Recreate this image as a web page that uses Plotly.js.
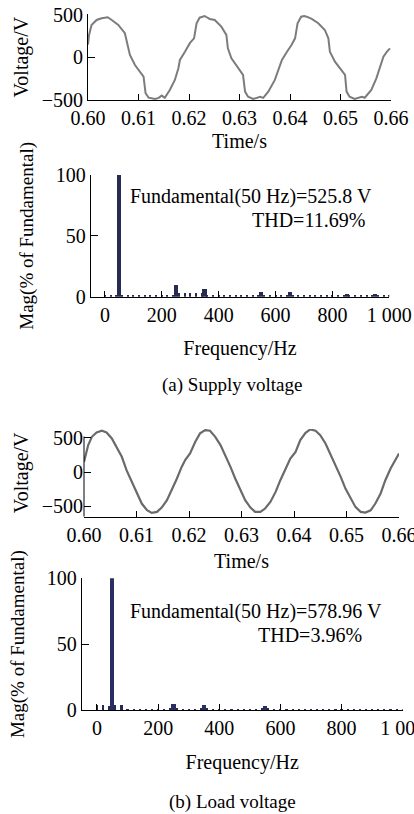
<!DOCTYPE html>
<html>
<head>
<meta charset="utf-8">
<script src="https://cdn.plot.ly/plotly-3.0.1.min.js"></script>
<style>html,body{margin:0;padding:0;background:#fff;}#chart{width:414px;height:814px;}</style>
</head>
<body>
<div id="chart"></div>
<script>
// ---- (a) Supply voltage waveform ----
const supplyTime = [0.6000,0.6002,0.6007,0.6017,0.6027,0.6033,0.6039,0.6047,0.6060,0.6073,0.6077,0.6083,0.6093,0.6106,0.6110,0.6114,0.6120,0.6133,0.6140,0.6146,0.6152,0.6162,0.6172,0.6179,0.6182,0.6192,0.6202,0.6210,0.6215,0.6221,0.6226,0.6231,0.6236,0.6241,0.6251,0.6264,0.6274,0.6277,0.6284,0.6297,0.6307,0.6311,0.6317,0.6327,0.6334,0.6341,0.6347,0.6357,0.6370,0.6379,0.6384,0.6394,0.6403,0.6410,0.6415,0.6422,0.6428,0.6433,0.6443,0.6456,0.6469,0.6476,0.6479,0.6489,0.6502,0.6509,0.6512,0.6518,0.6528,0.6535,0.6542,0.6548,0.6561,0.6571,0.6578,0.6585,0.6592,0.6598];
const supplyVoltage = [150,260,382,441,461,468,473,441,382,284,165,27,-91,-189,-230,-425,-477,-493,-480,-453,-480,-386,-268,-130,-32,66,170,224,402,468,480,488,470,453,441,362,264,106,-12,-130,-209,-406,-466,-493,-480,-466,-480,-406,-268,-111,-32,66,145,224,402,480,488,480,453,402,323,224,66,-52,-150,-209,-406,-466,-493,-480,-466,-478,-386,-249,-111,7,66,106];

// ---- (b) Load voltage waveform ----
const loadTime = [0.6000,0.6004,0.6008,0.6015,0.6024,0.6034,0.6043,0.6053,0.6062,0.6072,0.6081,0.6091,0.6101,0.6110,0.6120,0.6129,0.6139,0.6148,0.6158,0.6167,0.6177,0.6186,0.6193,0.6202,0.6212,0.6221,0.6231,0.6240,0.6250,0.6260,0.6269,0.6279,0.6288,0.6298,0.6307,0.6317,0.6326,0.6336,0.6345,0.6355,0.6365,0.6374,0.6384,0.6393,0.6403,0.6412,0.6422,0.6431,0.6441,0.6450,0.6460,0.6469,0.6479,0.6489,0.6498,0.6508,0.6517,0.6527,0.6536,0.6546,0.6555,0.6565,0.6574,0.6584,0.6594,0.6600];
const loadVoltage = [150,280,395,516,580,604,580,492,370,224,29,-142,-311,-458,-556,-595,-580,-516,-409,-263,-92,77,180,273,443,566,614,604,516,395,249,77,-92,-263,-409,-516,-580,-580,-531,-434,-288,-117,54,200,297,468,575,624,604,541,419,273,102,-68,-239,-385,-507,-580,-590,-556,-458,-311,-117,54,200,273];

// ---- Spectra ----
const supplyHarmFreq = [50,250,350,550,650,850,950];
const supplyHarmMag  = [100,9.5,6,4,3.5,2.5,2];
const loadHarmFreq = [50,250,350,550];
const loadHarmMag  = [100,4.2,3.5,3];
const floorFreq = [0,20,40,60,80,100,120,140,160,180,200,220,240,260,280,300,320,340,360,380,400,420,440,460,480,500,520,540,560,580,600,620,640,660,680,700,720,740,760,780,800,820,840,860,880,900,920,940,960,980,1000];
const supplyFloorMag = [1.2,1.2,1.2,1,1,1,1,1,1,1,1.8,1.8,1.8,2.7,2.7,2.7,2.7,2.7,1.2,1,1,1,1,1,1,1,1,1.2,1.2,1,1,1,1.2,1.2,1,1,1,1,1,1,1.5,1.5,1.5,1.2,1,1,1,1.2,1,1,1];
const loadFloorMag = [3.5,4,3,3.5,3.5,1,1,1,1,1,1,1,1.5,1.5,1,1,1,1.5,1.2,1,1,1,1,1,1,1,1,1.3,1.3,1,1,1,1,1,1,1,1,1,1,1,1,1,1,1,1,1,1,1,1,1,1];

// ---- Ticks ----
const timeTicks = [0.60,0.61,0.62,0.63,0.64,0.65,0.66];
const timeTickText = ['0.60','0.61','0.62','0.63','0.64','0.65','0.66'];
const voltTicks = [-500,0,500];
const freqTicks = [0,200,400,600,800,1000];
const freqTickText = ['0','200','400','600','800','1 000'];
const magTicks = [0,50,100];

const FONT = 'Liberation Serif, Times New Roman, serif';
const W = 414, H = 814;
const px = v => v / W;
const py = v => 1 - v / H;

const waveColor = '#7c7c7c';
const barColor = '#272a52';

function axisBase(extra) {
  return Object.assign({
    showline: true, linecolor: '#000', linewidth: 1,
    ticks: 'inside', tickcolor: '#000', tickwidth: 1,
    showgrid: false, zeroline: false, fixedrange: true,
    ticklabeloverflow: 'allow',
    tickfont: {family: FONT, size: 20, color: '#000'}
  }, extra);
}

const traces = [
  {x: supplyTime, y: supplyVoltage, xaxis: 'x', yaxis: 'y', type: 'scatter', mode: 'lines',
   line: {color: waveColor, width: 2}, hoverinfo: 'skip'},
  {x: floorFreq, y: supplyFloorMag, xaxis: 'x2', yaxis: 'y2', type: 'bar', width: 7,
   marker: {color: barColor, line: {width: 0}}, hoverinfo: 'skip'},
  {x: supplyHarmFreq, y: supplyHarmMag, xaxis: 'x2', yaxis: 'y2', type: 'bar', width: 15,
   marker: {color: barColor, line: {width: 0}}, hoverinfo: 'skip'},
  {x: loadTime, y: loadVoltage, xaxis: 'x3', yaxis: 'y3', type: 'scatter', mode: 'lines',
   line: {color: '#6a6a6a', width: 2.2}, hoverinfo: 'skip'},
  {x: floorFreq, y: loadFloorMag, xaxis: 'x4', yaxis: 'y4', type: 'bar', width: 7,
   marker: {color: barColor, line: {width: 0}}, hoverinfo: 'skip'},
  {x: loadHarmFreq, y: loadHarmMag, xaxis: 'x4', yaxis: 'y4', type: 'bar', width: 14,
   marker: {color: '#2a2f63', line: {width: 0}}, hoverinfo: 'skip'}
];

const titleFont = {family: FONT, size: 20, color: '#000'};
const magFont = {family: FONT, size: 19, color: '#000'};
const capFont = {family: FONT, size: 19, color: '#000'};

const layout = {
  width: W, height: H,
  margin: {l: 0, r: 0, t: 0, b: 0},
  paper_bgcolor: '#fff', plot_bgcolor: '#fff',
  showlegend: false, barmode: 'overlay', bargap: 0,
  xaxis: axisBase({domain: [px(88), px(391)], range: [0.6, 0.66], anchor: 'y',
    tickvals: timeTicks, ticktext: timeTickText, ticklen: 6,
    title: {text: 'Time/s', font: titleFont, standoff: 5}}),
  yaxis: axisBase({domain: [py(100), py(14.3)], range: [-505, 508], anchor: 'x',
    tickvals: voltTicks, ticklen: 7,
    title: {text: 'Voltage/V', font: titleFont, standoff: 7}}),
  xaxis2: axisBase({domain: [px(90.7), px(389.3)], range: [-50, 1000], anchor: 'y2',
    tickvals: freqTicks, ticktext: freqTickText, ticklen: 6,
    title: {text: 'Frequency/Hz', font: titleFont, standoff: 16}}),
  yaxis2: axisBase({domain: [py(296.7), py(175)], range: [0, 100], anchor: 'x2',
    tickvals: magTicks, ticklen: 7,
    title: {text: 'Mag(% of Fundamental)', font: magFont, standoff: 17}}),
  xaxis3: axisBase({domain: [px(84), px(399)], range: [0.6, 0.66], anchor: 'y3',
    tickvals: timeTicks, ticktext: timeTickText, ticklen: 6,
    title: {text: 'Time/s', font: titleFont, standoff: 9}}),
  yaxis3: axisBase({domain: [py(516.7), py(429)], range: [-650, 630], anchor: 'x3',
    showline: false, tickvals: voltTicks, ticklen: 7,
    title: {text: 'Voltage/V', font: titleFont, standoff: 7}}),
  xaxis4: axisBase({domain: [px(81.7), px(402.7)], range: [-50, 1000], anchor: 'y4',
    tickvals: freqTicks, ticktext: freqTickText, ticklen: 6,
    title: {text: 'Frequency/Hz', font: titleFont, standoff: 16}}),
  yaxis4: axisBase({domain: [py(710), py(578.3)], range: [0, 100], anchor: 'x4',
    tickvals: magTicks, ticklen: 7,
    title: {text: 'Mag(% of Fundamental)', font: magFont, standoff: 17}}),
  shapes: [
    {type: 'line', xref: 'x3 domain', yref: 'y3', x0: 0, x1: 0, y0: -650, y1: 520,
     line: {color: '#000', width: 1}}
  ],
  annotations: [
    {text: 'Fundamental(50 Hz)=525.8 V', xref: 'paper', yref: 'paper', x: px(128), y: py(196),
     xanchor: 'left', yanchor: 'middle', showarrow: false, font: titleFont},
    {text: 'THD=11.69%', xref: 'paper', yref: 'paper', x: px(367), y: py(220),
     xanchor: 'right', yanchor: 'middle', showarrow: false, font: titleFont},
    {text: '(a) Supply voltage', xref: 'paper', yref: 'paper', x: px(232), y: py(385),
     xanchor: 'center', yanchor: 'middle', showarrow: false, font: capFont},
    {text: 'Fundamental(50 Hz)=578.96 V', xref: 'paper', yref: 'paper', x: px(128), y: py(611.7),
     xanchor: 'left', yanchor: 'middle', showarrow: false, font: titleFont},
    {text: 'THD=3.96%', xref: 'paper', yref: 'paper', x: px(256), y: py(635),
     xanchor: 'left', yanchor: 'middle', showarrow: false, font: titleFont},
    {text: '(b) Load voltage', xref: 'paper', yref: 'paper', x: px(232), y: py(802),
     xanchor: 'center', yanchor: 'middle', showarrow: false, font: capFont}
  ]
};

Plotly.newPlot('chart', traces, layout, {staticPlot: true, displayModeBar: false});
</script>
</body>
</html>
